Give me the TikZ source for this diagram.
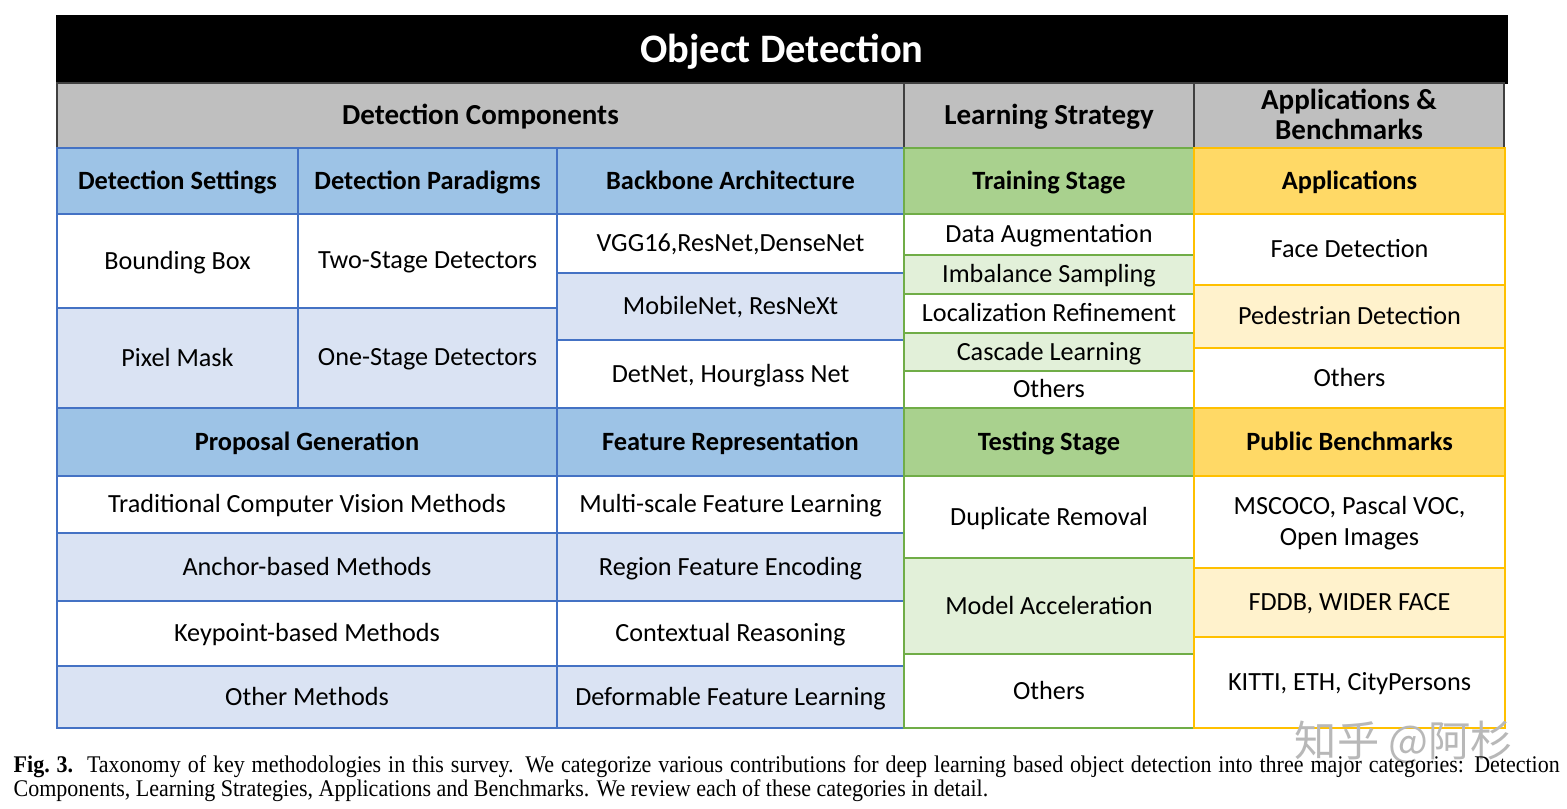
\documentclass[tikz,border=0pt]{standalone}
\usepackage{fontspec}
\setmainfont{Carlito}
\newfontfamily\capfont[FakeStretch=0.92]{Liberation Serif}
\newfontfamily\cjkfont{Noto Sans CJK SC}
\definecolor{grayhdr}{HTML}{BFBFBF}
\definecolor{bluehdrc}{HTML}{9DC3E6}
\definecolor{bluelc}{HTML}{DAE3F3}
\definecolor{bluedr}{HTML}{4472C4}
\definecolor{greenhdrc}{HTML}{A9D18E}
\definecolor{greenlc}{HTML}{E2F0D9}
\definecolor{greendr}{HTML}{70AD47}
\definecolor{yellowhdrc}{HTML}{FFD966}
\definecolor{yellowlc}{HTML}{FFF2CC}
\definecolor{yellowdr}{HTML}{FFC000}
\newcommand\cellbox[7]{\node[#6, minimum width={(#4-#2)*0.01cm}, minimum height={(#5-#3)*0.01cm}] (#1) at ({(#2+#4)/2},{(#3+#5)/2}) {#7};}
\tikzset{
  base/.style={draw, inner sep=0pt, align=center, text=black, text depth=0.5pt},
  bodyfont/.style={font=\fontsize{7.45}{8.8}\selectfont},
  hdrfont/.style={font=\bfseries\fontsize{7.5}{9}\selectfont},
  titlebox/.style={base, fill=black, draw=black, text=white, font=\bfseries\fontsize{11.5}{13}\selectfont},
  graybox/.style={base, fill=grayhdr, draw=black!75, line width=0.7pt, font=\bfseries\fontsize{8.25}{9.6}\selectfont},
  bluehdr/.style={base, fill=bluehdrc, draw=bluedr, line width=0.8pt, hdrfont},
  bluew/.style={base, fill=white, draw=bluedr, line width=0.55pt, bodyfont},
  bluel/.style={base, fill=bluelc, draw=bluedr, line width=0.55pt, bodyfont},
  greenhdr/.style={base, fill=greenhdrc, draw=greendr, line width=0.8pt, hdrfont},
  greenw/.style={base, fill=white, draw=greendr, line width=0.55pt, bodyfont},
  greenl/.style={base, fill=greenlc, draw=greendr, line width=0.55pt, bodyfont},
  yellowhdr/.style={base, fill=yellowhdrc, draw=yellowdr, line width=0.8pt, hdrfont},
  yelloww/.style={base, fill=white, draw=yellowdr, line width=0.55pt, bodyfont},
  yellowl/.style={base, fill=yellowlc, draw=yellowdr, line width=0.55pt, bodyfont},
  capstyle/.style={anchor=base west, inner sep=0pt, font=\capfont\fontsize{6.8}{8}\selectfont},
}
\begin{document}
\begin{tikzpicture}[x=0.01cm,y=-0.01cm]
\useasboundingbox (0,0) rectangle (1567,808);
% title
\cellbox{title}{57}{16}{1507}{83}{titlebox}{Object Detection}
% gray row
\cellbox{dc}{57}{83}{904}{148}{graybox}{Detection Components}
\cellbox{ls}{904}{83}{1194}{148}{graybox}{Learning Strategy}
\cellbox{ab}{1194}{83}{1504}{148}{graybox}{Applications \&\\[-1pt] Benchmarks}
% header row 1
\cellbox{dset}{57}{148}{298}{214}{bluehdr}{Detection Settings}
\cellbox{dpar}{298}{148}{557}{214}{bluehdr}{Detection Paradigms}
\cellbox{bb}{557}{148}{904}{214}{bluehdr}{Backbone Architecture}
% block 1 blue
\cellbox{bbox}{57}{214}{298}{308}{bluew}{Bounding Box}
\cellbox{two}{298}{214}{557}{308}{bluew}{Two-Stage Detectors}
\cellbox{pix}{57}{308}{298}{408}{bluel}{Pixel Mask}
\cellbox{one}{298}{308}{557}{408}{bluel}{One-Stage Detectors}
\cellbox{vgg}{557}{214}{904}{273}{bluew}{VGG16,ResNet,DenseNet}
\cellbox{mob}{557}{273}{904}{340}{bluel}{MobileNet, ResNeXt}
\cellbox{det}{557}{340}{904}{408}{bluew}{DetNet, Hourglass Net}
% header row 2
\cellbox{prop}{57}{408}{557}{476}{bluehdr}{Proposal Generation}
\cellbox{feat}{557}{408}{904}{476}{bluehdr}{Feature Representation}
% block 2 blue
\cellbox{trad}{57}{476}{557}{533}{bluew}{Traditional Computer Vision Methods}
\cellbox{anc}{57}{533}{557}{601}{bluel}{Anchor-based Methods}
\cellbox{key}{57}{601}{557}{666}{bluew}{Keypoint-based Methods}
\cellbox{oth}{57}{666}{557}{728}{bluel}{Other Methods}
\cellbox{ms}{557}{476}{904}{533}{bluew}{Multi-scale Feature Learning}
\cellbox{reg}{557}{533}{904}{601}{bluel}{Region Feature Encoding}
\cellbox{ctx}{557}{601}{904}{666}{bluew}{Contextual Reasoning}
\cellbox{dfm}{557}{666}{904}{728}{bluel}{Deformable Feature Learning}
% green column
\cellbox{train}{904}{148}{1194}{214}{greenhdr}{Training Stage}
\cellbox{da}{904}{214}{1194}{255}{greenw}{Data Augmentation}
\cellbox{imb}{904}{255}{1194}{294}{greenl}{Imbalance Sampling}
\cellbox{loc}{904}{294}{1194}{333}{greenw}{Localization Refinement}
\cellbox{cas}{904}{333}{1194}{371}{greenl}{Cascade Learning}
\cellbox{toth}{904}{371}{1194}{408}{greenw}{Others}
\cellbox{test}{904}{408}{1194}{476}{greenhdr}{Testing Stage}
\cellbox{dup}{904}{476}{1194}{558}{greenw}{Duplicate Removal}
\cellbox{acc}{904}{558}{1194}{654}{greenl}{Model Acceleration}
\cellbox{teoth}{904}{654}{1194}{728}{greenw}{Others}
% yellow column
\cellbox{app}{1194}{148}{1505}{214}{yellowhdr}{Applications}
\cellbox{face}{1194}{214}{1505}{285}{yelloww}{Face Detection}
\cellbox{ped}{1194}{285}{1505}{348}{yellowl}{Pedestrian Detection}
\cellbox{aoth}{1194}{348}{1505}{408}{yelloww}{Others}
\cellbox{pub}{1194}{408}{1505}{476}{yellowhdr}{Public Benchmarks}
\cellbox{coco}{1194}{476}{1505}{568}{yelloww}{MSCOCO, Pascal VOC,\\ Open Images}
\cellbox{fddb}{1194}{568}{1505}{637}{yellowl}{FDDB, WIDER FACE}
\cellbox{kitti}{1194}{637}{1505}{728}{yelloww}{KITTI, ETH, CityPersons}
% watermark
\node[text=black!28, font=\cjkfont\fontsize{12}{14}\selectfont, anchor=center] (wm) at (1404,742) {知乎 @阿杉};
% caption
\node[capstyle] (cap1) at (13,772) {\makebox[15.45cm][s]{\textbf{Fig.~3.}\ \ Taxonomy of key methodologies in this survey. We categorize various contributions for deep learning based object detection into three major categories: Detection}};
\node[capstyle] (cap2) at (13,796) {Components, Learning Strategies, Applications and Benchmarks. We review each of these categories in detail.};
\end{tikzpicture}
\end{document}
